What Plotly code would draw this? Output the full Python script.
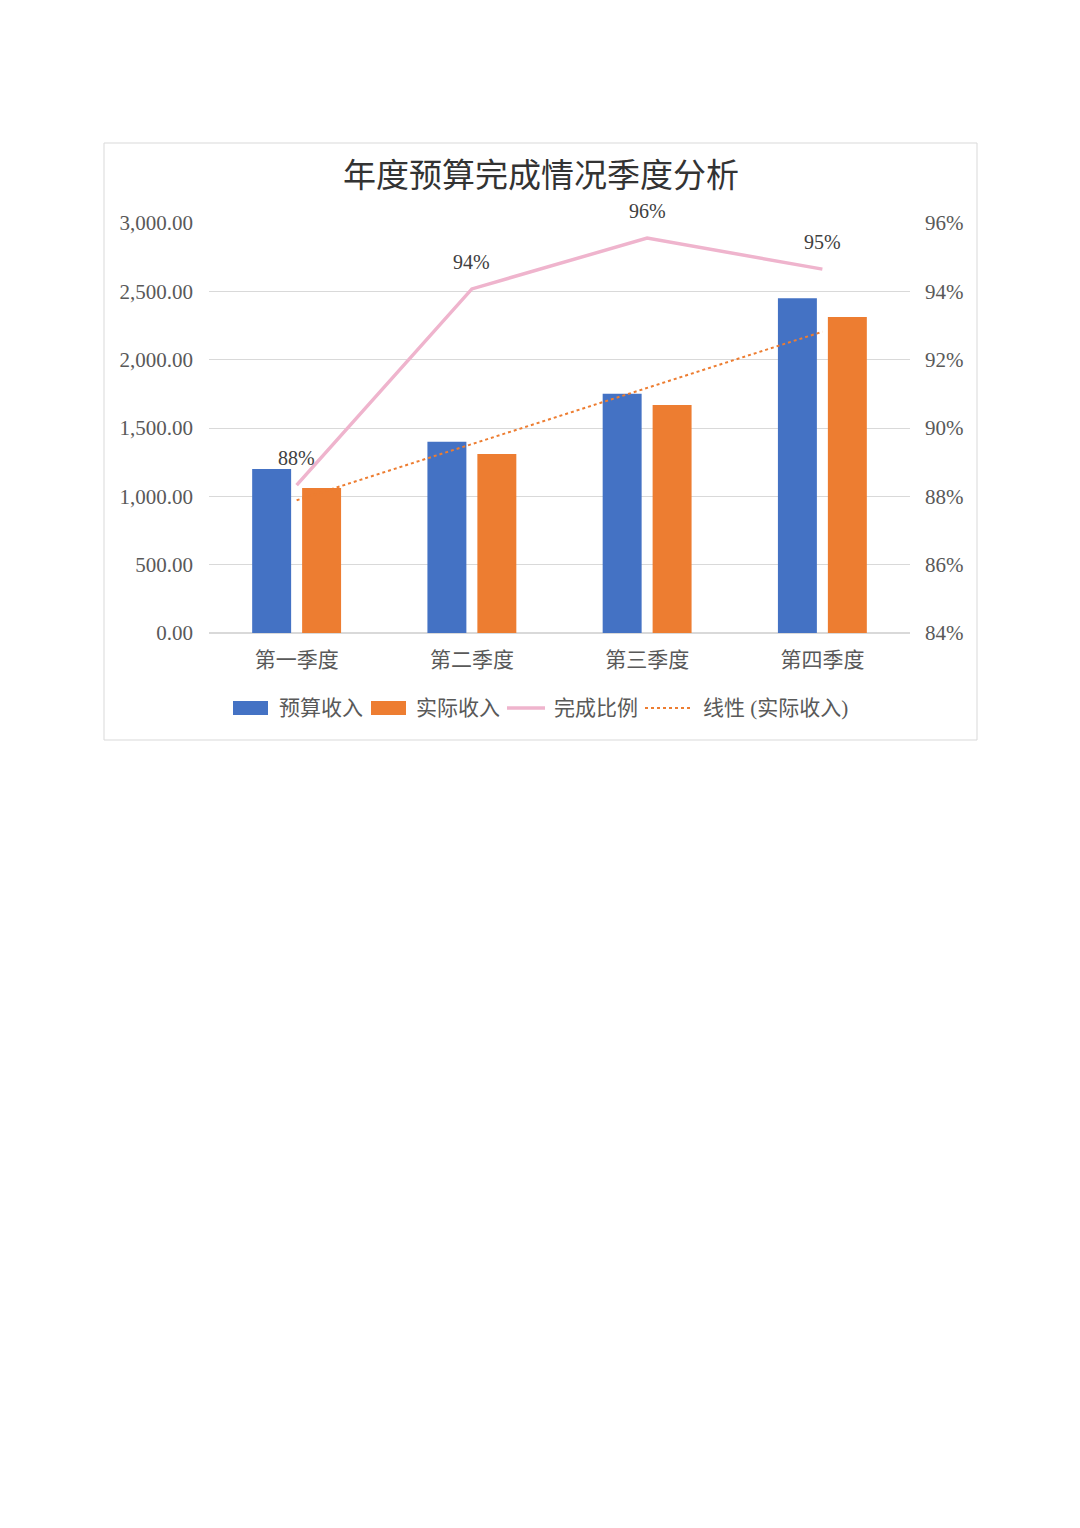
import numpy as np
import plotly.graph_objects as go

quarters = ["第一季度", "第二季度", "第三季度", "第四季度"]
budget = [1200, 1400, 1750, 2450]
actual = [1061, 1310, 1668, 2312]
ratio = [0.8833, 0.9407, 0.9556, 0.9465]
ratio_labels = ["88%", "94%", "96%", "95%"]
legend_names = ["预算收入", "实际收入", "完成比例", "线性 (实际收入)"]

W, H = 1080, 1528
OFF = 8  # browser body margin
# plot area in page pixels
px_l, px_r, px_t, px_b = 209, 910, 223, 633
pw, ph = px_r - px_l, px_b - px_t

font_main = "Liberation Serif, Noto Sans CJK SC, serif"
grey = "#595959"
blue, orange, pink = "#4472C4", "#ED7D31", "#EFB4CD"

# linear trend of actual income
xi = np.arange(1, len(actual) + 1)
k, b = np.polyfit(xi, actual, 1)
trend = k * xi + b

fig = go.Figure()
fig.add_trace(go.Bar(x=quarters, y=budget, name=legend_names[0],
                     marker=dict(color=blue, line=dict(width=0))))
fig.add_trace(go.Bar(x=quarters, y=actual, name=legend_names[1],
                     marker=dict(color=orange, line=dict(width=0))))
fig.add_trace(go.Scatter(x=quarters, y=ratio, name=legend_names[2], yaxis="y2",
                         mode="lines", line=dict(color=pink, width=3.5)))
fig.add_trace(go.Scatter(x=quarters, y=trend, name=legend_names[3],
                         mode="lines", line=dict(color=orange, width=2, dash="dot")))

for q, r, t in zip(quarters, ratio, ratio_labels):
    fig.add_annotation(x=q, y=r, yref="y2", text=t, showarrow=False,
                       yshift=27, font=dict(size=20, color="#404040", family=font_main))


def px2x(p):
    return (p - px_l) / pw


def px2y(p):
    return (px_b - p) / ph


# outer chart border
fig.add_shape(type="rect", xref="paper", yref="paper",
              x0=px2x(104), x1=px2x(977), y0=px2y(740), y1=px2y(143),
              line=dict(color="#D9D9D9", width=1), fillcolor="rgba(0,0,0,0)", layer="below")

# hand-drawn legend (wide swatches like the original)
ly = 708
fig.add_shape(type="rect", xref="paper", yref="paper", x0=px2x(233), x1=px2x(268),
              y0=px2y(715), y1=px2y(701), fillcolor=blue, line=dict(width=0))
fig.add_shape(type="rect", xref="paper", yref="paper", x0=px2x(371), x1=px2x(406),
              y0=px2y(715), y1=px2y(701), fillcolor=orange, line=dict(width=0))
fig.add_shape(type="line", xref="paper", yref="paper", x0=px2x(507), x1=px2x(545),
              y0=px2y(ly), y1=px2y(ly), line=dict(color=pink, width=3.5))
fig.add_shape(type="line", xref="paper", yref="paper", x0=px2x(645), x1=px2x(690),
              y0=px2y(ly), y1=px2y(ly), line=dict(color=orange, width=2, dash="dot"))
for name, xs in zip(legend_names, [277, 414, 552, 701]):
    fig.add_annotation(xref="paper", yref="paper", x=px2x(xs), y=px2y(ly), text=name,
                       xanchor="left", yanchor="middle", showarrow=False,
                       font=dict(size=21, color=grey, family=font_main))

fig.update_layout(
    width=W, height=H,
    margin=dict(l=px_l - OFF, r=W - px_r + OFF, t=px_t - OFF, b=H - px_b + OFF),
    paper_bgcolor="white", plot_bgcolor="white",
    title=dict(text="年度预算完成情况季度分析", x=px2x(541), xref="paper", xanchor="center",
               y=1 - (175 - OFF) / H, yanchor="middle",
               font=dict(size=33, color="#333333", family=font_main)),
    barmode="group", bargap=0.43, bargroupgap=0.22,
    font=dict(family=font_main, color=grey, size=20),
    xaxis=dict(showgrid=False, showline=False, ticks="", zeroline=False,
               ticklabelstandoff=12, tickfont=dict(size=21, color=grey)),
    yaxis=dict(range=[0, 3000], dtick=500, tickformat=",.2f",
               gridcolor="#D9D9D9", gridwidth=1, zeroline=True, zerolinecolor="#D9D9D9",
               showline=False, ticks="", ticklabelstandoff=15,
               tickfont=dict(size=21, color=grey)),
    yaxis2=dict(range=[0.84, 0.96], dtick=0.02, tickformat=".0%", overlaying="y",
                side="right", showgrid=False, zeroline=False, showline=False, ticks="",
                ticklabelstandoff=14, tickfont=dict(size=21, color=grey)),
    showlegend=False,
)

fig.write_html("out.html")
